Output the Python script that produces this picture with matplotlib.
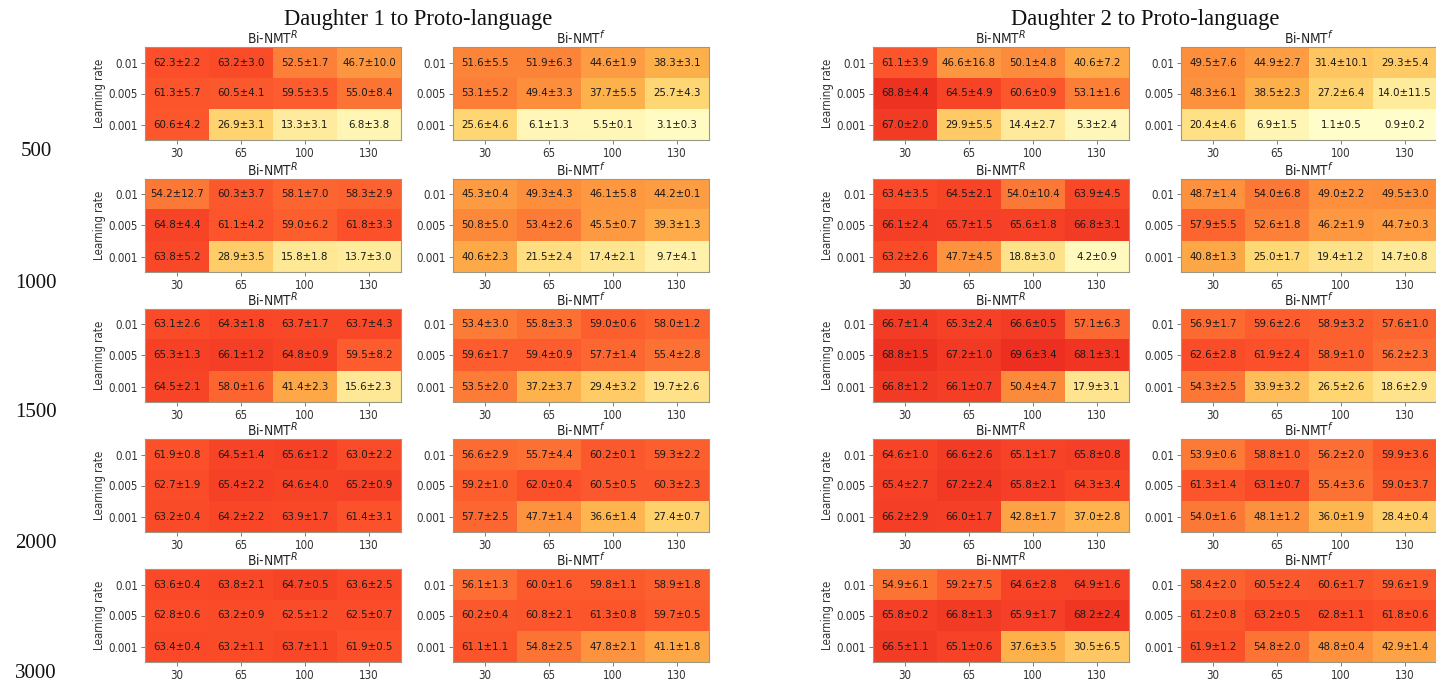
import numpy as np
import matplotlib
matplotlib.use('Agg')
import matplotlib.pyplot as plt

# data sizes (rows), learning rates (heatmap rows), hidden units (heatmap cols)
sizes = [500, 1000, 1500, 2000, 3000]
learning_rates = ['0.01', '0.005', '0.001']
units = [30, 65, 100, 130]

d1_R_mean = [
    [[62.3, 63.2, 52.5, 46.7], [61.3, 60.5, 59.5, 55.0], [60.6, 26.9, 13.3, 6.8]],
    [[54.2, 60.3, 58.1, 58.3], [64.8, 61.1, 59.0, 61.8], [63.8, 28.9, 15.8, 13.7]],
    [[63.1, 64.3, 63.7, 63.7], [65.3, 66.1, 64.8, 59.5], [64.5, 58.0, 41.4, 15.6]],
    [[61.9, 64.5, 65.6, 63.0], [62.7, 65.4, 64.6, 65.2], [63.2, 64.2, 63.9, 61.4]],
    [[63.6, 63.8, 64.7, 63.6], [62.8, 63.2, 62.5, 62.5], [63.4, 63.2, 63.7, 61.9]],
]
d1_R_std = [
    [[2.2, 3.0, 1.7, 10.0], [5.7, 4.1, 3.5, 8.4], [4.2, 3.1, 3.1, 3.8]],
    [[12.7, 3.7, 7.0, 2.9], [4.4, 4.2, 6.2, 3.3], [5.2, 3.5, 1.8, 3.0]],
    [[2.6, 1.8, 1.7, 4.3], [1.3, 1.2, 0.9, 8.2], [2.1, 1.6, 2.3, 2.3]],
    [[0.8, 1.4, 1.2, 2.2], [1.9, 2.2, 4.0, 0.9], [0.4, 2.2, 1.7, 3.1]],
    [[0.4, 2.1, 0.5, 2.5], [0.6, 0.9, 1.2, 0.7], [0.4, 1.1, 1.1, 0.5]],
]
d1_f_mean = [
    [[51.6, 51.9, 44.6, 38.3], [53.1, 49.4, 37.7, 25.7], [25.6, 6.1, 5.5, 3.1]],
    [[45.3, 49.3, 46.1, 44.2], [50.8, 53.4, 45.5, 39.3], [40.6, 21.5, 17.4, 9.7]],
    [[53.4, 55.8, 59.0, 58.0], [59.6, 59.4, 57.7, 55.4], [53.5, 37.2, 29.4, 19.7]],
    [[56.6, 55.7, 60.2, 59.3], [59.2, 62.0, 60.5, 60.3], [57.7, 47.7, 36.6, 27.4]],
    [[56.1, 60.0, 59.8, 58.9], [60.2, 60.8, 61.3, 59.7], [61.1, 54.8, 47.8, 41.1]],
]
d1_f_std = [
    [[5.5, 6.3, 1.9, 3.1], [5.2, 3.3, 5.5, 4.3], [4.6, 1.3, 0.1, 0.3]],
    [[0.4, 4.3, 5.8, 0.1], [5.0, 2.6, 0.7, 1.3], [2.3, 2.4, 2.1, 4.1]],
    [[3.0, 3.3, 0.6, 1.2], [1.7, 0.9, 1.4, 2.8], [2.0, 3.7, 3.2, 2.6]],
    [[2.9, 4.4, 0.1, 2.2], [1.0, 0.4, 0.5, 2.3], [2.5, 1.4, 1.4, 0.7]],
    [[1.3, 1.6, 1.1, 1.8], [0.4, 2.1, 0.8, 0.5], [1.1, 2.5, 2.1, 1.8]],
]
d2_R_mean = [
    [[61.1, 46.6, 50.1, 40.6], [68.8, 64.5, 60.6, 53.1], [67.0, 29.9, 14.4, 5.3]],
    [[63.4, 64.5, 54.0, 63.9], [66.1, 65.7, 65.6, 66.8], [63.2, 47.7, 18.8, 4.2]],
    [[66.7, 65.3, 66.6, 57.1], [68.8, 67.2, 69.6, 68.1], [66.8, 66.1, 50.4, 17.9]],
    [[64.6, 66.6, 65.1, 65.8], [65.4, 67.2, 65.8, 64.3], [66.2, 66.0, 42.8, 37.0]],
    [[54.9, 59.2, 64.6, 64.9], [65.8, 66.8, 65.9, 68.2], [66.5, 65.1, 37.6, 30.5]],
]
d2_R_std = [
    [[3.9, 16.8, 4.8, 7.2], [4.4, 4.9, 0.9, 1.6], [2.0, 5.5, 2.7, 2.4]],
    [[3.5, 2.1, 10.4, 4.5], [2.4, 1.5, 1.8, 3.1], [2.6, 4.5, 3.0, 0.9]],
    [[1.4, 2.4, 0.5, 6.3], [1.5, 1.0, 3.4, 3.1], [1.2, 0.7, 4.7, 3.1]],
    [[1.0, 2.6, 1.7, 0.8], [2.7, 2.4, 2.1, 3.4], [2.9, 1.7, 1.7, 2.8]],
    [[6.1, 7.5, 2.8, 1.6], [0.2, 1.3, 1.7, 2.4], [1.1, 0.6, 3.5, 6.5]],
]
d2_f_mean = [
    [[49.5, 44.9, 31.4, 29.3], [48.3, 38.5, 27.2, 14.0], [20.4, 6.9, 1.1, 0.9]],
    [[48.7, 54.0, 49.0, 49.5], [57.9, 52.6, 46.2, 44.7], [40.8, 25.0, 19.4, 14.7]],
    [[56.9, 59.6, 58.9, 57.6], [62.6, 61.9, 58.9, 56.2], [54.3, 33.9, 26.5, 18.6]],
    [[53.9, 58.8, 56.2, 59.9], [61.3, 63.1, 55.4, 59.0], [54.0, 48.1, 36.0, 28.4]],
    [[58.4, 60.5, 60.6, 59.6], [61.2, 63.2, 62.8, 61.8], [61.9, 54.8, 48.8, 42.9]],
]
d2_f_std = [
    [[7.6, 2.7, 10.1, 5.4], [6.1, 2.3, 6.4, 11.5], [4.6, 1.5, 0.5, 0.2]],
    [[1.4, 6.8, 2.2, 3.0], [5.5, 1.8, 1.9, 0.3], [1.3, 1.7, 1.2, 0.8]],
    [[1.7, 2.6, 3.2, 1.0], [2.8, 2.4, 1.0, 2.3], [2.5, 3.2, 2.6, 2.9]],
    [[0.6, 1.0, 2.0, 3.6], [1.4, 0.7, 3.6, 3.7], [1.6, 1.2, 1.9, 0.4]],
    [[2.0, 2.4, 1.7, 1.9], [0.8, 0.5, 1.1, 0.6], [1.2, 2.0, 0.4, 1.4]],
]

panels = [
    (d1_R_mean, d1_R_std, r'Bi-NMT$^{R}$', True),
    (d1_f_mean, d1_f_std, r'Bi-NMT$^{f}$', False),
    (d2_R_mean, d2_R_std, r'Bi-NMT$^{R}$', True),
    (d2_f_mean, d2_f_std, r'Bi-NMT$^{f}$', False),
]

W, H = 1436, 680
fig = plt.figure(figsize=(W / 100, H / 100), dpi=100)

lefts = [145, 453, 873, 1181]
tops = [47, 179, 309, 439, 569]
pw, ph = 256, 93

cond = dict(family='DejaVu Sans', fontstretch='condensed')

for r, size in enumerate(sizes):
    for c, (means, stds, title, ylab) in enumerate(panels):
        ax = fig.add_axes([lefts[c] / W, 1 - (tops[r] + ph) / H, pw / W, ph / H])
        m = np.array(means[r])
        s = np.array(stds[r])
        ax.imshow(m, cmap='YlOrRd', vmin=0, vmax=100, aspect='auto')
        for i in range(m.shape[0]):
            for j in range(m.shape[1]):
                ax.text(j, i, f'{m[i, j]:.1f}\u00b1{s[i, j]:.1f}', ha='center', va='center',
                        fontsize=8.2, color='#1a1a1a', **cond)
        ax.set_xticks(range(len(units)))
        ax.set_xticklabels([str(u) for u in units], fontsize=8.3, color='#333333', **cond)
        ax.set_yticks(range(len(learning_rates)))
        ax.set_yticklabels(learning_rates, fontsize=8.3, color='#333333', **cond)
        ax.tick_params(length=3, width=0.6, color='#666666', pad=2)
        for sp in ax.spines.values():
            sp.set_color('#999988')
            sp.set_linewidth(0.8)
        ax.set_title(title, fontsize=9.8, color='#222222', pad=2, **cond)
        if ylab:
            ax.set_ylabel('Learning rate', fontsize=8.3, color='#333333', labelpad=2, **cond)
    fig.text(36 / W, 1 - (tops[r] + 104) / H, str(size), ha='center', va='center',
             fontsize=15, family='Liberation Serif', color='#111111')

fig.text(418 / W, 1 - 19 / H, 'Daughter 1 to Proto-language', ha='center', va='center',
         fontsize=16.3, family='Liberation Serif', color='#111111')
fig.text(1145 / W, 1 - 19 / H, 'Daughter 2 to Proto-language', ha='center', va='center',
         fontsize=16.3, family='Liberation Serif', color='#111111')

fig.savefig('out.png', dpi=100, facecolor='white')
